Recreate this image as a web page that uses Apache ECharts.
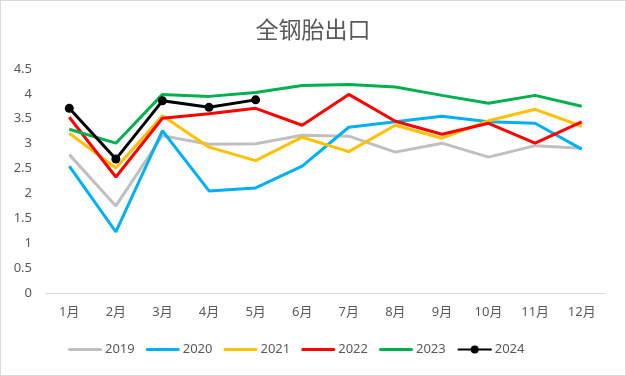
<!DOCTYPE html>
<html>
<head>
<meta charset="utf-8">
<script src="https://cdn.jsdelivr.net/npm/echarts@6/dist/echarts.min.js"></script>
<style>
  html, body { margin: 0; padding: 0; background: #fff; }
  #chart { width: 624px; height: 374px; border: 1px solid #d9d9d9; }
</style>
</head>
<body>
<div id="chart"></div>
<script>
const months = ['1月', '2月', '3月', '4月', '5月', '6月', '7月', '8月', '9月', '10月', '11月', '12月'];
const y2019 = [2.78, 1.75, 3.16, 2.99, 3.0, 3.17, 3.15, 2.83, 3.01, 2.73, 2.96, 2.91];
const y2020 = [2.55, 1.23, 3.26, 2.05, 2.11, 2.55, 3.33, 3.44, 3.55, 3.44, 3.41, 2.89];
const y2021 = [3.21, 2.51, 3.56, 2.93, 2.66, 3.13, 2.84, 3.37, 3.11, 3.46, 3.69, 3.35];
const y2022 = [3.53, 2.33, 3.51, 3.6, 3.71, 3.37, 3.99, 3.45, 3.19, 3.41, 3.01, 3.44];
const y2023 = [3.29, 3.01, 3.99, 3.95, 4.03, 4.17, 4.19, 4.14, 3.97, 3.81, 3.97, 3.75];
const y2024 = [3.71, 2.69, 3.86, 3.73, 3.88];

const font = 'Noto Sans, Noto Sans CJK SC, sans-serif';
// plain line icon for the legend (box 34x10, bar in the middle)
const lineIcon = 'path://M0,0L0,0M1.5,3.5L32.5,3.5A1.5,1.5 0 0 1 32.5,6.5L1.5,6.5A1.5,1.5 0 0 1 1.5,3.5ZM34,10L34,10';
const chart = echarts.init(document.getElementById('chart'));

function line(name, data, color) {
    return {
        name: name,
        type: 'line',
        data: data,
        symbol: 'none',
        lineStyle: { width: 3, color: color },
        itemStyle: { color: color }
    };
}

const option = {
    animation: false,
    textStyle: { fontFamily: font },
    title: {
        text: '全钢胎出口',
        left: 'center',
        top: 14,
        textStyle: { fontSize: 23, fontWeight: 'normal', color: '#595959', fontFamily: font }
    },
    legend: {
        left: 62,
        bottom: 14,
        itemWidth: 34,
        itemHeight: 10,
        itemGap: 11,
        textStyle: { fontSize: 13, color: '#595959', padding: [0, 0, 0, -2] },
        data: [
            { name: '2019', icon: lineIcon },
            { name: '2020', icon: lineIcon },
            { name: '2021', icon: lineIcon },
            { name: '2022', icon: lineIcon },
            { name: '2023', icon: lineIcon },
            { name: '2024' }
        ]
    },
    grid: { left: 45, right: 20, top: 68, bottom: 82 },
    xAxis: {
        type: 'category',
        data: months,
        axisLine: { lineStyle: { color: '#d9d9d9' } },
        axisTick: { show: false },
        axisLabel: { color: '#595959', fontSize: 13, margin: 13 }
    },
    yAxis: {
        type: 'value',
        min: 0,
        max: 4.5,
        interval: 0.5,
        splitLine: { show: false },
        axisLine: { show: false },
        axisTick: { show: false },
        axisLabel: { color: '#595959', fontSize: 13, margin: 14 }
    },
    series: [
        line('2019', y2019, '#bfbfbf'),
        line('2020', y2020, '#00b0f0'),
        line('2021', y2021, '#ffc000'),
        line('2022', y2022, '#ff0000'),
        line('2023', y2023, '#00b050'),
        {
            name: '2024',
            type: 'line',
            data: y2024,
            symbol: 'circle',
            symbolSize: 9,
            lineStyle: { width: 3, color: '#000' },
            itemStyle: { color: '#000' }
        }
    ]
};
chart.setOption(option);
</script>
</body>
</html>
